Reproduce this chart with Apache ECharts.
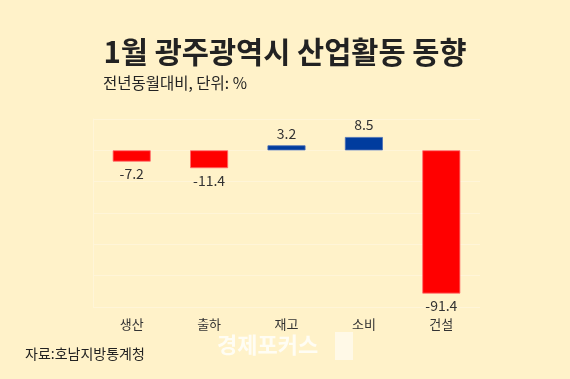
<!DOCTYPE html>
<html>
<head>
<meta charset="utf-8">
<script src="https://cdn.jsdelivr.net/npm/echarts@6/dist/echarts.min.js"></script>
<style>
html,body{margin:0;padding:0;background:#FFF2C9;}
#c{width:570px;height:379px;}
</style>
</head>
<body>
<div id="c"></div>
<script>
const categories = ['생산', '출하', '재고', '소비', '건설'];
const values = [-7.2, -11.4, 3.2, 8.5, -91.4];
const yTicks = [-100, -80, -60, -40, -20, 0, 20];

const FONT = '"Noto Sans CJK KR", "Noto Sans", sans-serif';
const chart = echarts.init(document.getElementById('c'));
chart.setOption({
  backgroundColor: '#FFF2C9',
  animation: false,
  textStyle: { fontFamily: FONT },
  title: {
    text: '1월 광주광역시 산업활동 동향',
    left: 'center',
    top: 32,
    textStyle: { fontSize: 29.5, fontWeight: 'bold', color: '#222222', fontFamily: FONT }
  },
  graphic: [
    { type: 'text', left: 103, top: 75,
      style: { text: '전년동월대비, 단위: %', fill: '#222222', font: '15.5px ' + FONT } },
    { type: 'text', left: 25, top: 347,
      style: { text: '자료:호남지방통계청', fill: '#222222', font: '14px ' + FONT } },
    { type: 'text', left: 217, top: 334,
      style: { text: '경제포커스', fill: 'rgba(255,255,255,0.8)', font: 'bold 22px ' + FONT } },
    { type: 'rect', left: 335, top: 332, shape: { width: 18, height: 28 },
      style: { fill: 'rgba(255,255,255,0.55)' } }
  ],
  grid: { left: 93, right: 90, top: 119, bottom: 72 },
  xAxis: {
    type: 'category',
    data: categories,
    axisLine: { show: false, onZero: false },
    axisTick: { show: false },
    axisLabel: { color: '#333333', fontSize: 13, margin: 11, fontFamily: FONT }
  },
  yAxis: {
    type: 'value',
    min: yTicks[0],
    max: yTicks[yTicks.length - 1],
    interval: 20,
    axisLabel: { show: false },
    axisLine: { show: true, lineStyle: { color: '#FFF5D8', width: 1 } },
    axisTick: { show: false },
    splitLine: { show: true, lineStyle: { color: '#FFF5D8', width: 1 } }
  },
  series: [{
    type: 'bar',
    barWidth: 38,
    data: values.map(v => ({
      value: v,
      itemStyle: {
        color: v < 0 ? '#FF0000' : '#003C9E',
        borderColor: v < 0 ? '#FF6B6B' : '#4A6FB5',
        borderWidth: 0.8
      },
      label: { position: v < 0 ? 'bottom' : 'top' }
    })),
    label: {
      show: true,
      distance: 5,
      color: '#333333',
      fontSize: 14,
      fontFamily: FONT,
      formatter: p => String(p.value)
    }
  }]
});
</script>
</body>
</html>
